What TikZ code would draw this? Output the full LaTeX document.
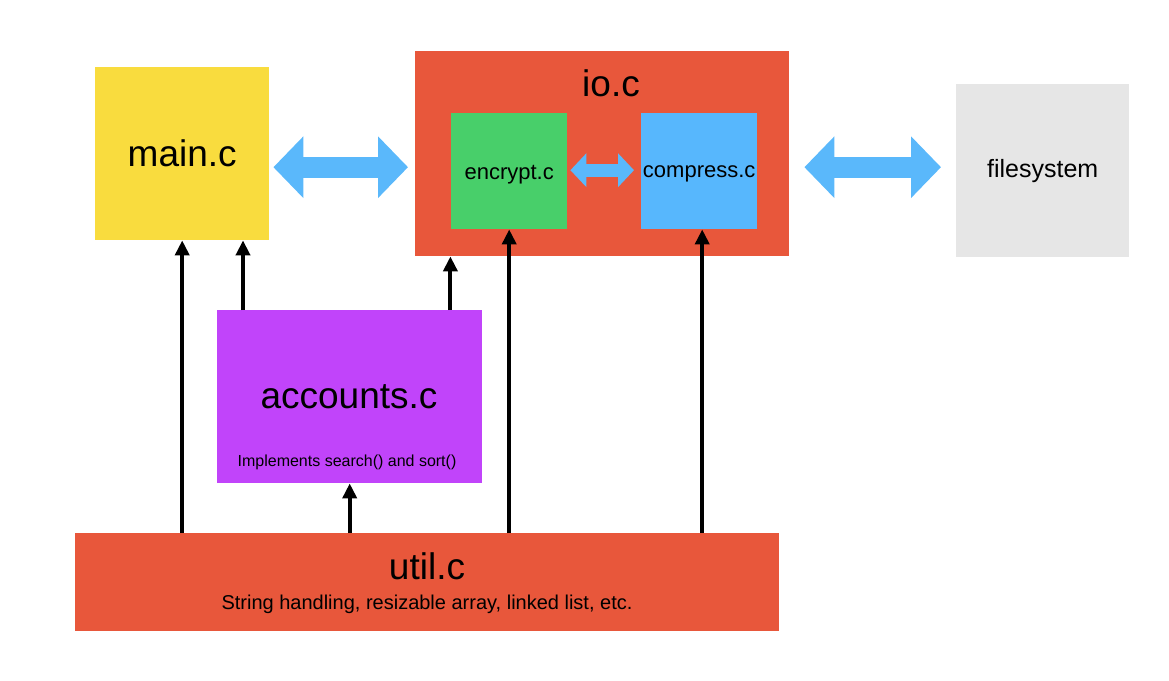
\documentclass[tikz,border=0pt]{standalone}
\usepackage{fontspec}
\setmainfont{Liberation Sans}
\usetikzlibrary{arrows.meta}

\definecolor{mainyellow}{HTML}{F9DC3E}
\definecolor{iored}{HTML}{E8573B}
\definecolor{encgreen}{HTML}{48CF6A}
\definecolor{compblue}{HTML}{57B7FD}
\definecolor{fsgray}{HTML}{E6E6E6}
\definecolor{accpurple}{HTML}{C144FA}
\definecolor{flowblue}{HTML}{5AB8FB}

\begin{document}
\begin{tikzpicture}[x=1pt, y=-1pt,
    box/.style={inner sep=0pt, anchor=north west},
    bigtext/.style={font=\fontsize{37}{40}\selectfont},
    subtext/.style={font=\fontsize{22}{24}\selectfont, yshift=-3pt},
    dep/.style={line width=4pt, -{Triangle[length=15pt, width=14pt]}},
    fatarrow/.style={flowblue, line width=21pt,
        {Triangle[length=30pt, width=60pt]}-{Triangle[length=30pt, width=60pt]}},
    thinarrow/.style={flowblue, line width=13pt,
        {Triangle[length=16pt, width=33pt]}-{Triangle[length=16pt, width=33pt]}}]
    % page frame
    \useasboundingbox (0,0) rectangle (1169,680);

    % draw module boxes
    \node[box, fill=mainyellow, minimum width=174pt, minimum height=173pt, bigtext] (main) at (95,67) {main.c};
    \node[box, fill=iored, minimum width=374pt, minimum height=205pt] (io) at (415,51) {};
    \node[bigtext] (iolabel) at (611,83) {io.c};
    \node[box, fill=encgreen, minimum width=116pt, minimum height=116pt, label={[subtext]center:encrypt.c}] (encrypt) at (451,113) {};
    \node[box, fill=compblue, minimum width=116pt, minimum height=116pt, label={[subtext]center:compress.c}] (compress) at (641,113) {};
    \node[box, fill=fsgray, minimum width=173pt, minimum height=173pt, font=\fontsize{25}{28}\selectfont] (filesys) at (956,84) {filesystem};
    \node[box, fill=accpurple, minimum width=265pt, minimum height=173pt] (accounts) at (217,310) {};
    \node[bigtext] (acclabel) at (349,397) {accounts.c};
    \node[font=\fontsize{16}{18}\selectfont] (accnote) at (347,462) {Implements search() and sort()};
    \node[box, fill=iored, minimum width=704pt, minimum height=98pt] (util) at (75,533) {};
    \node[bigtext] (utillabel) at (427,566) {util.c};
    \node[font=\fontsize{20}{22}\selectfont] (utilnote) at (427,604) {String handling, resizable array, linked list, etc.};

    % draw data flow
    \draw[fatarrow, shorten <=4pt, shorten >=7pt] ([yshift=-13.5pt]main.east) -- ([yshift=-13.5pt]main.east -| io.west);
    \draw[fatarrow, shorten <=15pt, shorten >=15pt] ([yshift=-13.5pt]io.east) -- ([yshift=-13.5pt]io.east -| filesys.west);
    \draw[thinarrow, shorten <=3pt, shorten >=7pt] ([yshift=1pt]encrypt.east) -- ([yshift=1pt]compress.west);

    % draw dependencies
    \coordinate (acctop1) at ([xshift=26pt]accounts.north west);
    \coordinate (acctop2) at ([xshift=-32pt]accounts.north east);
    \coordinate (compbot) at ([xshift=3pt]compress.south);
    \draw[dep] (main.south |- util.north) -- (main.south);
    \draw[dep] (acctop1) -- (acctop1 |- main.south);
    \draw[dep] (acctop2) -- (acctop2 |- io.south);
    \draw[dep] (accounts.south |- util.north) -- (accounts.south);
    \draw[dep] (encrypt.south |- util.north) -- (encrypt.south);
    \draw[dep] (compbot |- util.north) -- (compbot);
\end{tikzpicture}
\end{document}
